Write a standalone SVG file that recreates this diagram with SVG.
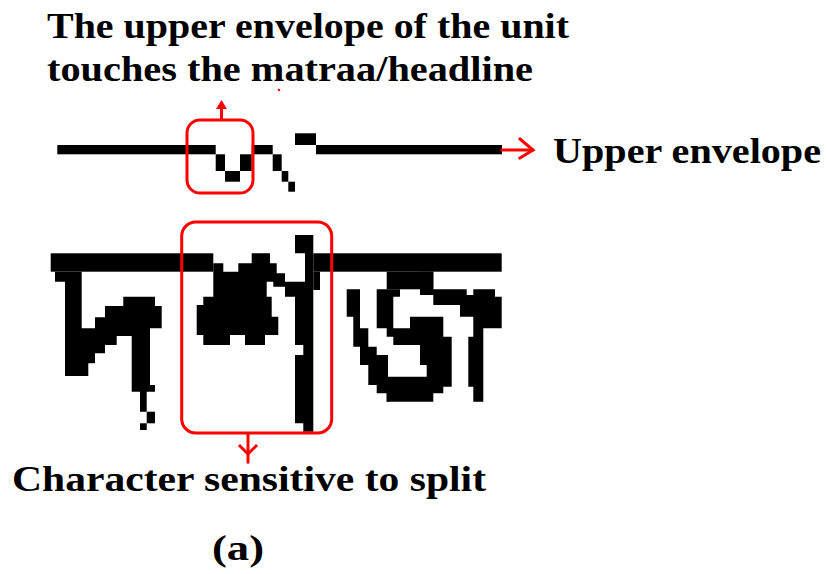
<svg xmlns="http://www.w3.org/2000/svg" width="827" height="574" viewBox="0 0 827 574">
  <style>
    .lbl { font-family: "Liberation Serif", "Times New Roman", serif; font-size: 36px; font-weight: bold; fill: #000; }
    .ink { fill: #000; stroke: none; }
    .box { fill: none; stroke: #ff0000; stroke-width: 3; }
    .arr { fill: none; stroke: #ff0000; stroke-width: 3; stroke-linecap: square; stroke-linejoin: miter; }
  </style>
  <rect x="0" y="0" width="827" height="574" fill="#ffffff"/>

  <g id="label-top">
    <text class="lbl" x="47" y="38" textLength="522" lengthAdjust="spacingAndGlyphs">The upper envelope of the unit</text>
    <text class="lbl" x="47" y="81" textLength="486" lengthAdjust="spacingAndGlyphs">touches the matraa/headline</text>
  </g>

  <g id="envelope-line">
    <rect class="ink" x="57.3" y="145" width="158.4" height="9.3"/>
    <rect class="ink" x="215.7" y="154.3" width="9.3" height="16.7"/>
    <rect class="ink" x="225" y="171" width="15" height="10.7"/>
    <rect class="ink" x="240" y="154.3" width="11.7" height="16.7"/>
    <rect class="ink" x="251.7" y="145" width="21" height="9.3"/>
    <rect class="ink" x="272.7" y="154.3" width="9" height="16.7"/>
    <rect class="ink" x="281.7" y="171" width="6.6" height="10.7"/>
    <rect class="ink" x="288.3" y="181.7" width="6.7" height="10"/>
    <rect class="ink" x="295" y="133.3" width="21" height="11.7"/>
    <rect class="ink" x="316" y="145" width="186" height="9.3"/>
  </g>

  <g id="label-upper-envelope">
    <text class="lbl" x="553" y="163" textLength="268" lengthAdjust="spacingAndGlyphs">Upper envelope</text>
  </g>

  <g id="word-image">
    <!-- headline -->
    <rect class="ink" x="50.7" y="253.3" width="162.6" height="18.4"/>
    <rect class="ink" x="313.3" y="253.3" width="188.4" height="18.4"/>
    <rect class="ink" x="313.3" y="271.7" width="6.7" height="18.3"/>
    <!-- left character -->
    <polygon class="ink" points="51,271.7 55,271.7 55,281.7 65,281.7 65,376 88.3,376 88.3,363.3 95,363.3 95,353.3 105,353.3 105,345 116.7,345 116.7,336 131.7,336 131.7,391.7 140,391.7 140,411.7 146.7,411.7 146.7,391.7 155,391.7 155,385 150,385 150,328.3 161.7,328.3 161.7,306 155,306 155,296.7 123.3,296.7 123.3,306 105,306 105,317.3 95,317.3 95,328.3 81.7,328.3 81.7,271.7"/>
    <rect class="ink" x="146.7" y="411.7" width="8.3" height="11.6"/>
    <rect class="ink" x="140" y="423.3" width="6.7" height="6.7"/>
    <!-- middle character -->
    <polygon class="ink" points="213.3,263.3 223.3,263.3 223.3,271.7 238.3,271.7 238.3,263.3 251.7,263.3 251.7,253.3 270,253.3 270,263.3 276.7,263.3 276.7,273.3 285,273.3 285,281.7 305,281.7 305,253.3 295,253.3 295,235 313.3,235 313.3,431.7 303.3,431.7 303.3,423.3 295,423.3 295,355 303.3,355 303.3,345 295,345 295,296.7 285,296.7 285,286.7 273.3,286.7 273.3,281.7 266.7,281.7 266.7,296.7 271.7,296.7 271.7,316.7 278.3,316.7 278.3,335 265,335 265,345 245,345 245,335 230,335 230,345 203.3,345 203.3,335 196.7,335 196.7,305 203.3,305 203.3,296.7 213.3,296.7"/>
    <!-- right character -->
    <rect class="ink" x="386.7" y="271.7" width="46.6" height="17.6"/>
    <polygon class="ink" points="420,271.7 433.3,271.7 433.3,289.3 466.7,289.3 466.7,295 473.3,295 473.3,289.3 495,289.3 495,296.7 501.7,296.7 501.7,328.3 483.3,328.3 483.3,401.7 473.3,401.7 473.3,386.7 468.3,386.7 468.3,336.7 473.3,336.7 473.3,316.7 460,316.7 460,305 433.3,305 433.3,295 420,295"/>
    <polygon class="ink" points="346.7,289.3 360,289.3 360,328.3 368.3,328.3 368.3,346.7 376.7,346.7 376.7,355 388,355 388,401.7 386.7,401.7 386.7,393.3 376.7,393.3 376.7,385 368.3,385 368.3,365 360,365 360,346.7 353.3,346.7 353.3,316.7 346.7,316.7"/>
    <polygon class="ink" points="376.7,289.3 400,289.3 400,296.7 393.3,296.7 393.3,328.3 410,328.3 410,316.7 443.3,316.7 443.3,336.7 451.7,336.7 451.7,386.7 443.3,386.7 443.3,393.3 433.3,393.3 433.3,401.7 386.7,401.7 386.7,376.7 426.7,376.7 426.7,365 420,365 420,345 393.3,345 393.3,336.7 386.7,336.7 386.7,328.3 376.7,328.3"/>
  </g>

  <g id="box-upper">
    <rect class="box" x="187" y="120" width="66" height="73" rx="13" ry="13"/>
  </g>

  <g id="box-char">
    <rect class="box" x="181.7" y="222" width="150" height="211" rx="14" ry="14"/>
  </g>

  <g id="label-bottom">
    <text class="lbl" x="12" y="491" textLength="474" lengthAdjust="spacingAndGlyphs">Character sensitive to split</text>
    <text class="lbl" x="212" y="560" textLength="52" lengthAdjust="spacingAndGlyphs">(a)</text>
  </g>

  <g id="connectors">
    <!-- up arrow from small box -->
    <line class="arr" x1="221.5" y1="119" x2="221.5" y2="108" stroke-linecap="butt"/>
    <polygon points="221.5,100 227,109 216,109" fill="#ff0000"/>
    <!-- right arrow to "Upper envelope" -->
    <line class="arr" x1="502" y1="150" x2="532" y2="150" stroke-linecap="butt"/>
    <polyline class="arr" points="520,139 533,150 520,158"/>
    <!-- down arrow from character box -->
    <line class="arr" x1="248" y1="434" x2="248" y2="462" stroke-linecap="butt"/>
    <polyline class="arr" points="240,446 248,454 256,446"/>
    <circle cx="279" cy="90" r="1.3" fill="#ff0000"/>
  </g>
</svg>
